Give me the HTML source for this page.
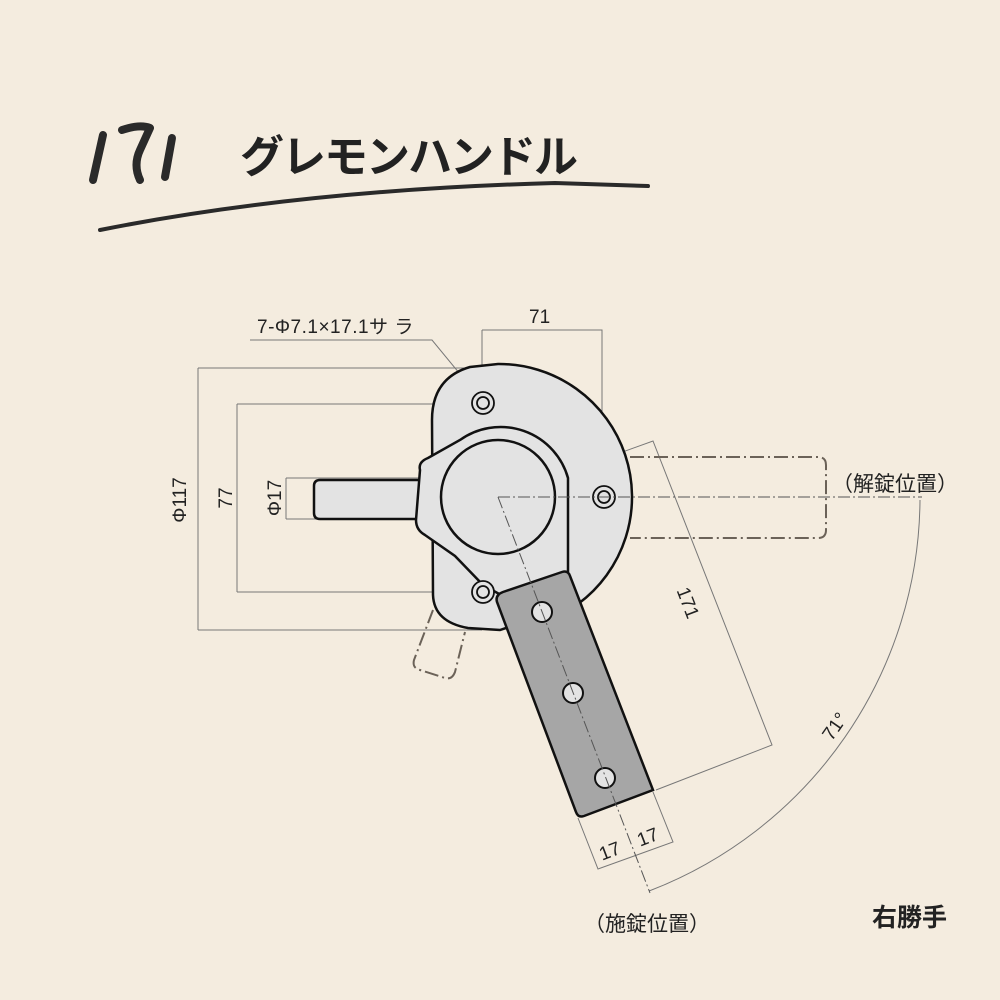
<!DOCTYPE html>
<html><head><meta charset="utf-8"><style>
html,body{margin:0;padding:0;background:#f4ecdf;}
svg{display:block}
text{font-family:"Liberation Sans","Noto Sans CJK JP",sans-serif;fill:#222}
</style></head><body>
<svg width="1000" height="1000" viewBox="0 0 1000 1000" xmlns="http://www.w3.org/2000/svg">
<rect width="1000" height="1000" fill="#f4ecdf"/>
<!-- title -->
<g stroke="#2a2a2a" stroke-width="8" stroke-linecap="round" fill="none" stroke-linejoin="round">
<path d="M103 135 L93 180"/>
<path d="M122 130 Q140 124 150 128 L140 150 Q133 165 140 180"/>
<path d="M172 138 L165 177"/>
</g>
<text x="240" y="172" font-size="44" font-weight="bold" style="font-family:'Noto Sans CJK JP',sans-serif" fill="#2a2a2a" letter-spacing="-2">グレモンハンドル</text>
<path d="M100 230 Q300 190 555 183 L648 186" stroke="#2a2a2a" stroke-width="4" fill="none" stroke-linecap="round"/>

<!-- dimension thin lines -->
<g stroke="#777" stroke-width="1" fill="none">
<path d="M198 368 H482 M198 630 H482 M198 368 V630"/>
<path d="M237 404 H482 M237 592 H482 M237 404 V592"/>
<path d="M286 478 H482 M286 519 H482 M286 478 V519"/>
<path d="M482 330 V600 M482 330 H602 V497"/>
<path d="M250 340 H432 L483 402"/>
<path d="M498 497 L653 441 L772 745 L656 790"/>
<path d="M578 818 L598 869 L673 842 L653 792"/>
<path d="M920 500 A422 422 0 0 1 649 891"/>
</g>
<!-- dashed ghosts -->
<g stroke="#6b6258" stroke-width="2" fill="none" stroke-dasharray="14 4 2 4">
<path d="M630 457 H818 Q826 457 826 465 V530 Q826 538 818 538 H630"/>
<path d="M433 610 L414 660 Q412 668 420 670 L445 678 Q452 680 455 672 L465 632"/>
</g>
<!-- body -->
<path d="M498 364 A133 133 0 0 1 578 604 L500 630 L468 628 Q434 622 433 595 L432 420 Q432 378 470 367 Z" fill="#e3e3e3" stroke="#111" stroke-width="2.5"/>
<!-- shaft -->
<path d="M418 480 H320 Q314 480 314 486 V513 Q314 519 320 519 H418" fill="#e3e3e3" stroke="#111" stroke-width="2.5"/>
<!-- boss -->
<path d="M420 470 Q418 462 428 458 L460 440 A70 70 0 0 1 568 478 L568 575 L510 600 L483 585 L455 556 L425 535 Q416 530 416 520 Z" fill="#e3e3e3" stroke="#111" stroke-width="2.5"/>
<circle cx="498" cy="497" r="57" fill="#e3e3e3" stroke="#111" stroke-width="2.5"/>
<!-- holes -->
<g fill="#e3e3e3" stroke="#111" stroke-width="1.8">
<circle cx="483" cy="403" r="11"/><circle cx="483" cy="403" r="6"/>
<circle cx="604" cy="497" r="11"/><circle cx="604" cy="497" r="6"/>
<circle cx="483" cy="592" r="11"/><circle cx="483" cy="592" r="6"/>
</g>
<!-- handle -->
<path d="M503 592 L562 572 Q568 570 570 576 L653 790 L584 816 Q578 818 576 812 L497 602 Q495 595 503 592 Z" fill="#a6a6a6" stroke="#111" stroke-width="2.5"/>
<g fill="#e3e3e3" stroke="#111" stroke-width="2">
<circle cx="542" cy="612" r="10"/><circle cx="573" cy="693" r="10"/><circle cx="605" cy="778" r="10"/>
</g>
<!-- centerlines -->
<g stroke="#555" stroke-width="1" fill="none" stroke-dasharray="12 3 2 3">
<path d="M498 497 L650 893"/>
<path d="M498 497 H922"/>
</g>
<!-- labels -->
<text x="257" y="333" font-size="19" letter-spacing="0.5">7-Φ7.1×17.1サ ラ</text>
<text x="529" y="323" font-size="19">71</text>
<text transform="translate(186,500) rotate(-90)" font-size="19" text-anchor="middle">Φ117</text>
<text transform="translate(232,498) rotate(-90)" font-size="19" text-anchor="middle">77</text>
<text transform="translate(281,498) rotate(-90)" font-size="19" text-anchor="middle">Φ17</text>
<text transform="translate(682,605) rotate(69)" font-size="19" text-anchor="middle">171</text>
<text transform="translate(612,857) rotate(-21)" font-size="19" text-anchor="middle">17</text>
<text transform="translate(650,843) rotate(-21)" font-size="19" text-anchor="middle">17</text>
<text transform="translate(840,730) rotate(-55)" font-size="19" text-anchor="middle">71°</text>
<text x="832" y="491" font-size="21">（解錠位置）</text>
<text x="584" y="931" font-size="21">（施錠位置）</text>
<text x="872" y="926" font-size="25" font-weight="bold">右勝手</text>
</svg>
</body></html>
